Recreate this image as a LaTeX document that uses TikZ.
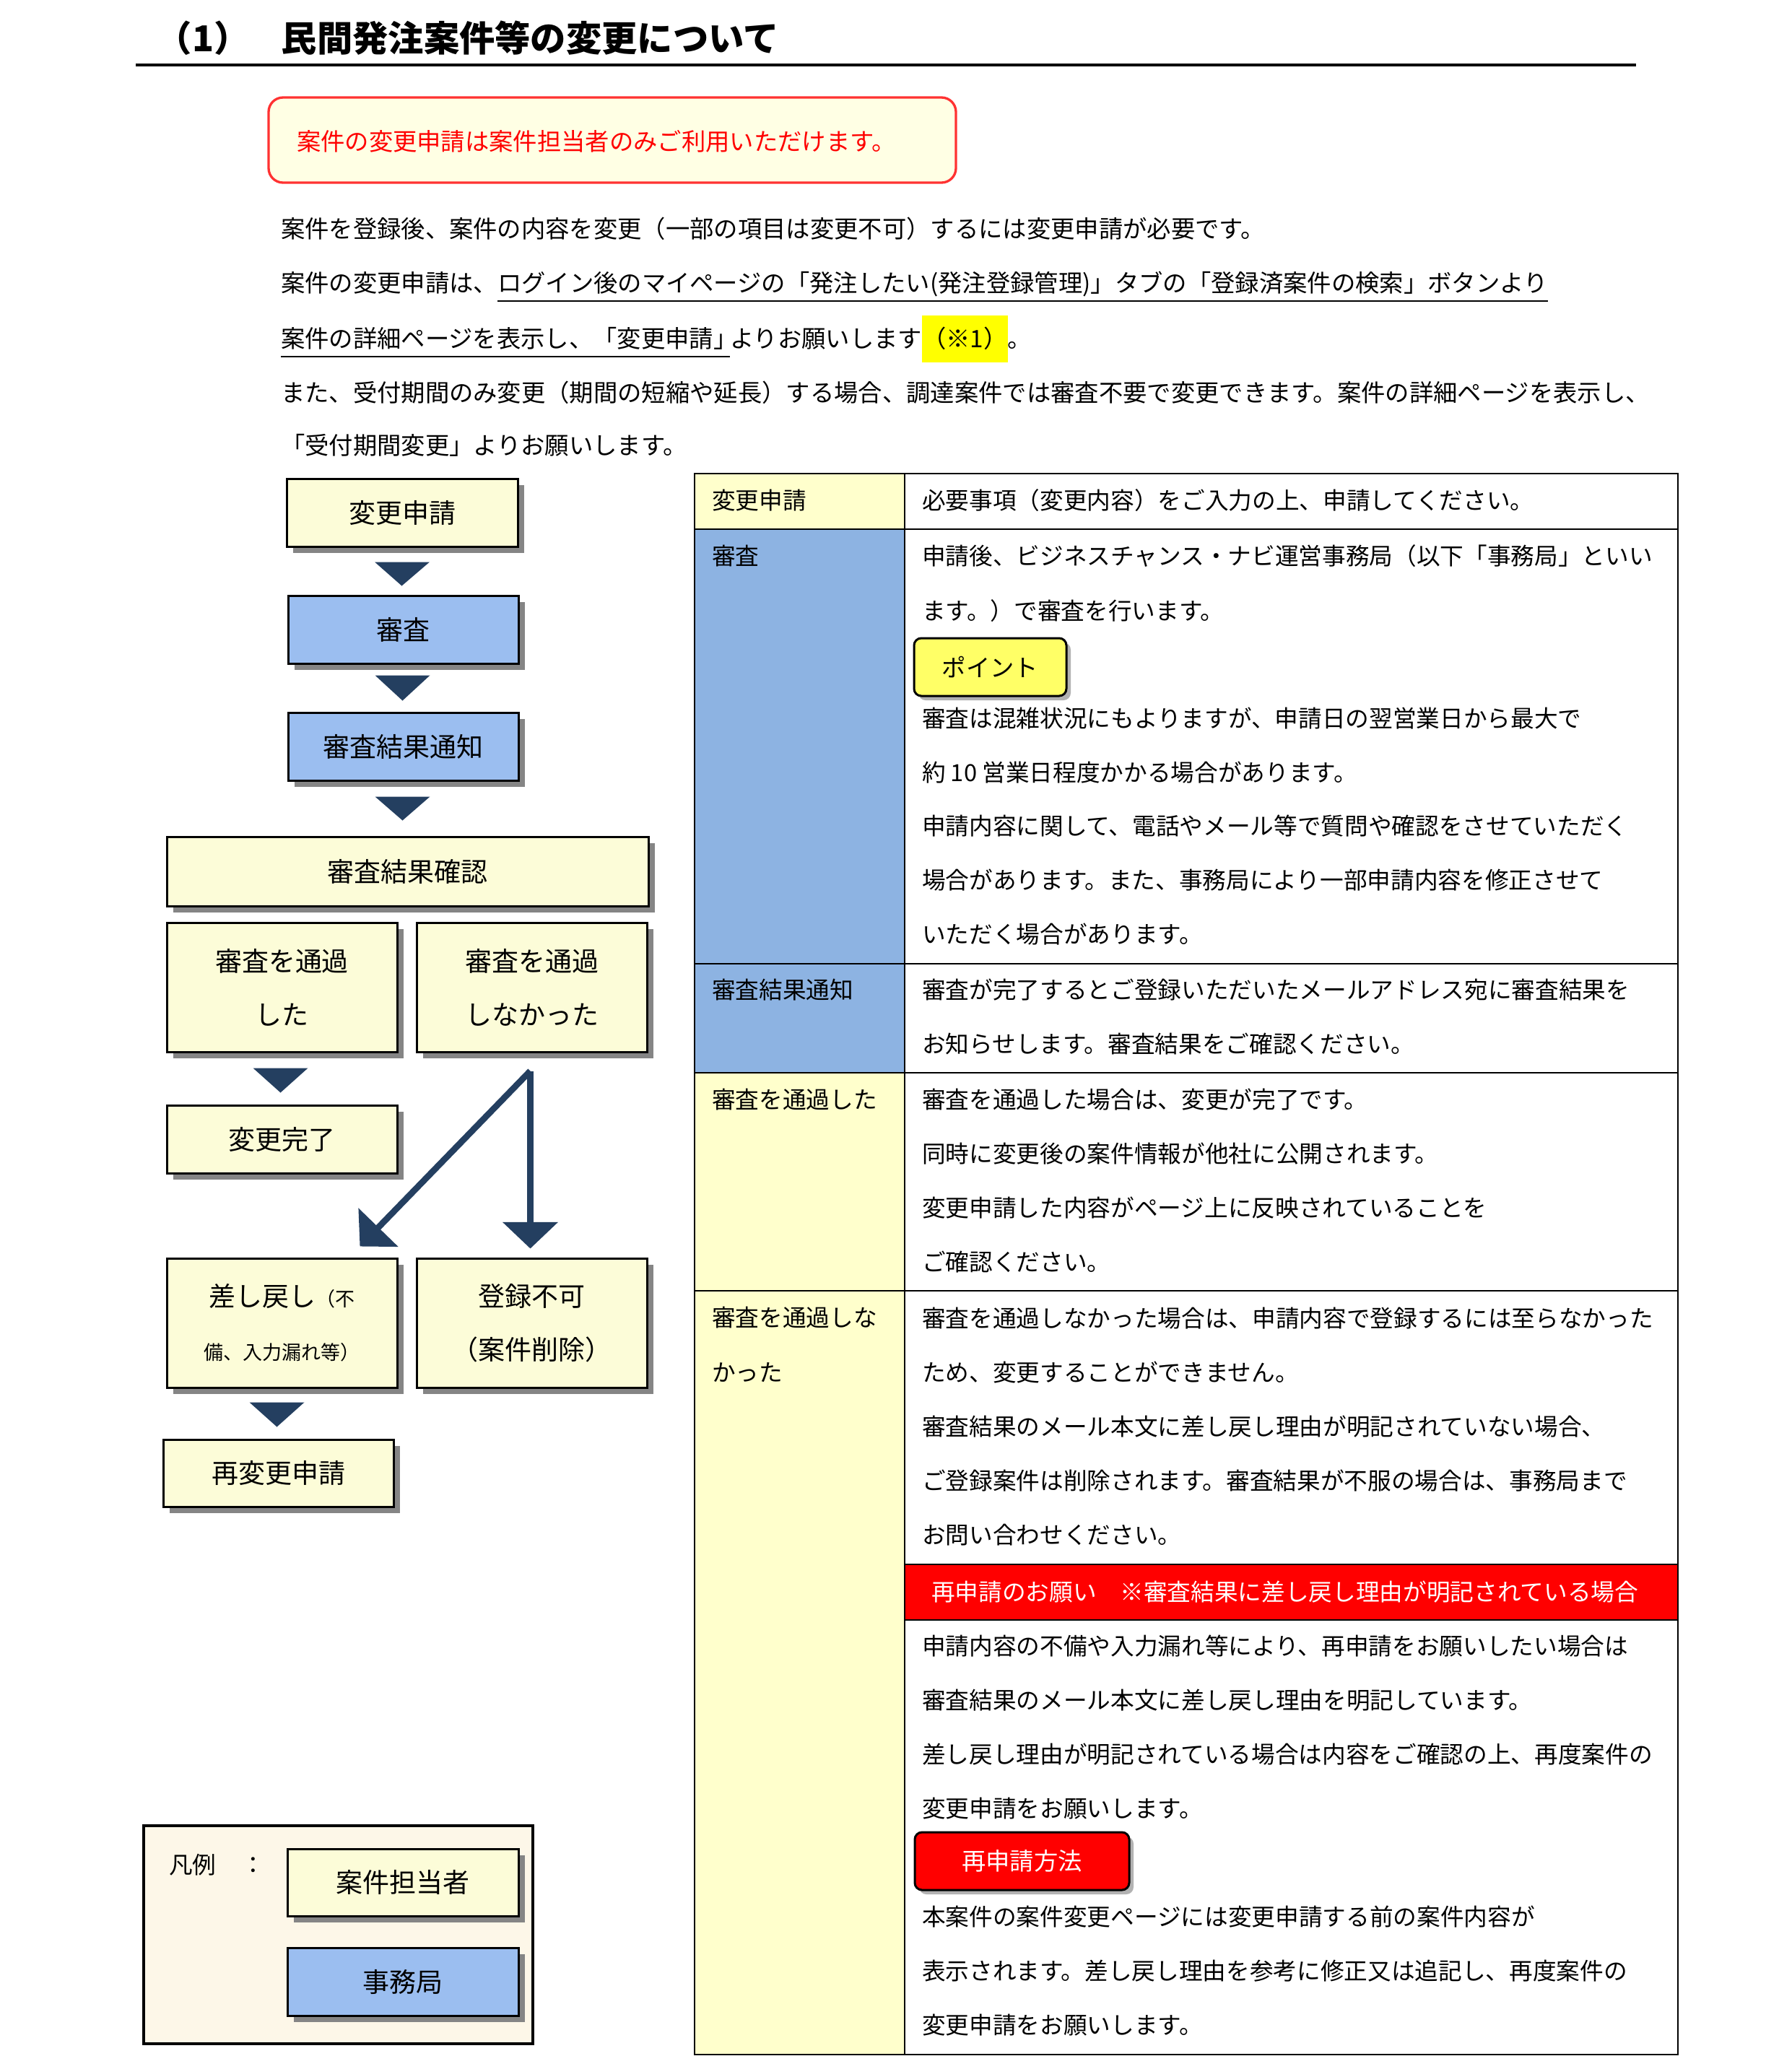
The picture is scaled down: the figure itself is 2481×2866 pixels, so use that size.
\documentclass[tikz,border=0pt]{standalone}
\usepackage{fontspec}
\setmainfont{Noto Sans CJK JP}
\usetikzlibrary{calc,shadows,arrows.meta}

\definecolor{flowY}{RGB}{252,252,216}
\definecolor{flowB}{RGB}{155,190,240}
\definecolor{tabY}{RGB}{255,255,204}
\definecolor{tabB}{RGB}{141,179,226}
\definecolor{navy}{RGB}{36,63,96}
\definecolor{shgray}{RGB}{133,133,133}
\definecolor{legfill}{RGB}{253,247,232}
\definecolor{notefill}{RGB}{255,255,228}
\definecolor{notered}{RGB}{255,50,50}
\definecolor{btnY}{RGB}{255,255,102}
\definecolor{hiY}{RGB}{255,255,0}
\definecolor{barred}{RGB}{255,0,0}

\newcommand\fBody{\fontsize{10pt}{12pt}\selectfont}
\newcommand\fTab{\fontsize{9.8pt}{12pt}\selectfont}
\newcommand\fFlow{\fontsize{11.1pt}{22.2pt}\selectfont}
\newcommand\fSmall{\fontsize{8.1pt}{22.2pt}\selectfont}
\newcommand\fTitle{\fontsize{14.8pt}{16pt}\selectfont\bfseries}

\tikzset{
 txt/.style={anchor=west, inner sep=0pt, outer sep=0pt, font=\fBody, text height=8.8pt, text depth=1.2pt},
 ttxt/.style={txt, font=\fTab, text height=8.6pt, text depth=1.2pt},
 flowbox/.style={draw=black, line width=0.9pt, fill=flowY, font=\fFlow, align=center, inner sep=0pt,
   drop shadow={shadow xshift=2.7pt, shadow yshift=-2.7pt, fill=shgray, opacity=1}},
 bluebox/.style={flowbox, fill=flowB},
 sz/.style 2 args={minimum width=#1*0.3pt, minimum height=#2*0.3pt},
 tri/.style={fill=navy},
 bigarrow/.style={draw=navy, line width=2.6pt, -{Triangle[width=22.5pt,length=11pt]}},
 tline/.style={line width=0.7pt, draw=black},
 btn/.style={draw=black, line width=0.9pt, rounded corners=3pt, font=\fBody, inner sep=0pt,
   drop shadow={shadow xshift=1.8pt, shadow yshift=-1.8pt, opacity=0.3, fill=black}},
}

\begin{document}
\begin{tikzpicture}[x=0.3pt, y=-0.3pt]
\useasboundingbox (0,0) rectangle (2481,2866);

% Title
\node[inner sep=0pt, anchor=west, font=\fTitle] (t1) at (216,53) {（1）};
\node[inner sep=0pt, anchor=west, font=\fTitle] (t2) at (389,53) {民間発注案件等の変更について};
\draw[line width=1.2pt] (188,90) -- (2266,90);

% Note box
\node[draw=notered, line width=1pt, fill=notefill, rounded corners=6pt, sz={952}{118}] (note) at (848,194) {};
\node[txt, text=red] (notet) at (411,196) {案件の変更申請は案件担当者のみご利用いただけます。};

% Body paragraph
\node[txt] (p1) at (389,317) {案件を登録後、案件の内容を変更（一部の項目は変更不可）するには変更申請が必要です。};
\node[txt] (p2a) at (389,392) {案件の変更申請は、};
\node[txt] (p2b) at (p2a.east) {ログイン後のマイページの「発注したい(発注登録管理)」タブの「登録済案件の検索」ボタンより};
\draw[line width=0.6pt] ($(p2b.south west)+(0,8)$) -- ($(p2b.south east)+(0,8)$);
\node[txt] (p3a) at (389,469) {案件の詳細ページを表示し、「変更申請」};
\node[txt, fill=hiY, minimum height=19.5pt] (p3c) at (1277,469) {（※1）};
\node[txt, anchor=east] (p3b) at (p3c.west) {よりお願いします};
\node[txt] (p3d) at (p3c.east) {。};
\draw[line width=0.6pt] ($(p3a.south west)+(0,8)$) -- ($(p3a.south west -| p3b.west)+(0,8)$);
\node[txt] (p4) at (389,544) {また、受付期間のみ変更（期間の短縮や延長）する場合、調達案件では審査不要で変更できます。案件の詳細ページを表示し、};
\node[txt] (p5) at (389,617) {「受付期間変更」よりお願いします。};

% Flow chart
\node[flowbox, sz={320}{94}] (A) at (557,710) {変更申請};
\node[bluebox, sz={319}{94}] (B) at (558.5,872) {審査};
\node[bluebox, sz={319}{94}] (C) at (558.5,1034) {審査結果通知};
\node[flowbox, sz={667}{96}] (D) at (564.5,1207) {審査結果確認};
\node[flowbox, sz={319}{179}] (E) at (390.5,1367.5) {審査を通過\\した};
\node[flowbox, sz={319}{179}] (F) at (736.5,1367.5) {審査を通過\\しなかった};
\node[flowbox, sz={319}{94}] (G) at (390.5,1578) {変更完了};
\node[flowbox, sz={319}{179}] (H) at (390.5,1832.5) {差し戻し{\fSmall（不}\\{\fSmall 備、入力漏れ等）}};
\node[flowbox, sz={319}{179}] (I) at (736.5,1832.5) {登録不可\\（案件削除）};
\node[flowbox, sz={319}{93}] (J) at (385.5,2040.5) {再変更申請};

\fill[tri] ($(A.south)+(-38,20)$) -- ($(A.south)+(38,20)$) -- ($(B.north)+(-2,-12)$) -- cycle;
\fill[tri] ($(B.south)+(-39,15)$) -- ($(B.south)+(37,15)$) -- ($(C.north)+(-1,-15)$) -- cycle;
\fill[tri] ($(C.south)+(-39,21)$) -- ($(C.south)+(37,21)$) -- ($(C.south |- D.north)+(-1,-21)$) -- cycle;
\fill[tri] ($(E.south)+(-40,21)$) -- ($(E.south)+(36,21)$) -- ($(G.north)+(-2,-16)$) -- cycle;
\fill[tri] ($(H.south)+(-45,19)$) -- ($(H.south)+(31,19)$) -- ($(J.north)+(-2,-16)$) -- cycle;

\coordinate (fs) at ($(F.south)+(-2,25)$);
\draw[bigarrow] (fs) -- ($(fs |- I.north)+(0,-12)$);
\draw[bigarrow] (fs) -- ($(H.north)+(108,-15)$);

% Legend
\node[draw=black, line width=1.3pt, fill=legfill, sz={539}{302}] (leg) at (468.5,2680) {};
\node[ttxt] (legl) at (234,2583) {凡例};
\node[ttxt, anchor=center] (legc) at (351,2583) {：};
\node[flowbox, sz={320}{93}] (K) at (558,2607.5) {案件担当者};
\node[bluebox, sz={320}{94}] (L) at (558,2745) {事務局};

% Table
\fill[tabY] (962,656) rectangle (1253,733);
\fill[tabB] (962,733) rectangle (1253,1486);
\fill[tabY] (962,1486) rectangle (1253,2846);
\fill[barred] (1253,2167) rectangle (2324,2244);
\draw[tline] (962,656) rectangle (2324,2846);
\draw[tline] (1253,656) -- (1253,2846);
\foreach \yy in {733,1335,1486,1788} { \draw[tline] (962,\yy) -- (2324,\yy); }
\draw[tline] (1253,2167) -- (2324,2167);
\draw[tline] (1253,2244) -- (2324,2244);

\node[ttxt] (r1l) at (986,693) {変更申請};
\node[ttxt] (r2l) at (986,770) {審査};
\node[ttxt] (r3l) at (986,1371) {審査結果通知};
\node[ttxt] (r4l) at (986,1523) {審査を通過した};
\node[ttxt] (r5l) at (986,1825) {審査を通過しな};
\node[ttxt] (r5m) at (986,1901) {かった};

\node[ttxt] (a1) at (1277,693) {必要事項（変更内容）をご入力の上、申請してください。};

\node[ttxt] (b1) at (1277,770) {申請後、ビジネスチャンス・ナビ運営事務局（以下「事務局」といい};
\node[ttxt] (b2) at (1277,846) {ます。）で審査を行います。};
\node[btn, fill=btnY, sz={211}{80}] (pt) at (1371.5,924) {ポイント};
\node[ttxt] (b3) at (1277,995) {審査は混雑状況にもよりますが、申請日の翌営業日から最大で};
\node[ttxt] (b4) at (1277,1070) {約 10 営業日程度かかる場合があります。};
\node[ttxt] (b5) at (1277,1144) {申請内容に関して、電話やメール等で質問や確認をさせていただく};
\node[ttxt] (b6) at (1277,1219) {場合があります。また、事務局により一部申請内容を修正させて};
\node[ttxt] (b7) at (1277,1294) {いただく場合があります。};

\node[ttxt] (c1) at (1277,1371) {審査が完了するとご登録いただいたメールアドレス宛に審査結果を};
\node[ttxt] (c2) at (1277,1446) {お知らせします。審査結果をご確認ください。};

\node[ttxt] (d1) at (1277,1523) {審査を通過した場合は、変更が完了です。};
\node[ttxt] (d2) at (1277,1598) {同時に変更後の案件情報が他社に公開されます。};
\node[ttxt] (d3) at (1277,1673) {変更申請した内容がページ上に反映されていることを};
\node[ttxt] (d4) at (1277,1748) {ご確認ください。};

\node[ttxt] (e1) at (1277,1826) {審査を通過しなかった場合は、申請内容で登録するには至らなかった};
\node[ttxt] (e2) at (1277,1901) {ため、変更することができません。};
\node[ttxt] (e3) at (1277,1976) {審査結果のメール本文に差し戻し理由が明記されていない場合、};
\node[ttxt] (e4) at (1277,2051) {ご登録案件は削除されます。審査結果が不服の場合は、事務局まで};
\node[ttxt] (e5) at (1277,2126) {お問い合わせください。};
\node[ttxt, text=white] (bar) at (1290,2205) {再申請のお願い　※審査結果に差し戻し理由が明記されている場合};
\node[ttxt] (f1) at (1277,2280) {申請内容の不備や入力漏れ等により、再申請をお願いしたい場合は};
\node[ttxt] (f2) at (1277,2355) {審査結果のメール本文に差し戻し理由を明記しています。};
\node[ttxt] (f3) at (1277,2430) {差し戻し理由が明記されている場合は内容をご確認の上、再度案件の};
\node[ttxt] (f4) at (1277,2505) {変更申請をお願いします。};
\node[btn, fill=barred, text=white, sz={297}{80}] (rm) at (1415.5,2578) {再申請方法};
\node[ttxt] (g1) at (1277,2655) {本案件の案件変更ページには変更申請する前の案件内容が};
\node[ttxt] (g2) at (1277,2730) {表示されます。差し戻し理由を参考に修正又は追記し、再度案件の};
\node[ttxt] (g3) at (1277,2805) {変更申請をお願いします。};
\end{tikzpicture}
\end{document}
